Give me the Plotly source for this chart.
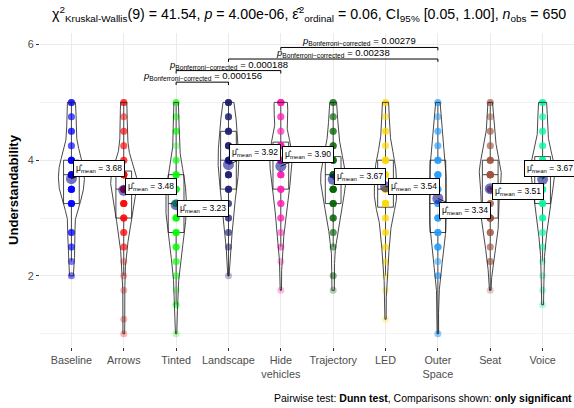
import numpy as np
import plotly.graph_objects as go

# ---- data -------------------------------------------------------------
groups = ["Baseline", "Arrows", "Tinted", "Landscape", "Hide vehicles",
          "Trajectory", "LED", "Outer Space", "Seat", "Voice"]
tick_labels = ["Baseline", "Arrows", "Tinted", "Landscape", "Hide<br>vehicles",
               "Trajectory", "LED", "Outer<br>Space", "Seat", "Voice"]

# rating levels of the understandability score
levels = [1.0, 1.25, 1.5, 1.75, 2.0, 2.25, 2.5, 2.75, 3.0,
          3.25, 3.5, 3.75, 4.0, 4.25, 4.5, 4.75, 5.0]

# number of participants at each level, per condition (n = 65 each)
counts_baseline   = [0, 0, 0, 0, 2, 2, 3, 4, 0, 8, 10, 11, 10, 3, 4, 3, 5]
counts_arrows     = [1, 1, 0, 1, 1, 1, 3, 4, 6, 8, 10, 13, 4, 3, 3, 2, 4]
counts_tinted     = [1, 0, 2, 1, 2, 3, 5, 7, 8, 9, 8, 7, 3, 1, 3, 2, 3]
counts_landscape  = [0, 0, 0, 0, 1, 0, 2, 3, 4, 4, 7, 8, 9, 8, 7, 5, 7]
counts_hide       = [0, 0, 0, 1, 0, 1, 2, 2, 4, 5, 7, 8, 9, 10, 3, 4, 9]
counts_trajectory = [0, 0, 0, 1, 2, 0, 2, 3, 5, 7, 10, 11, 8, 5, 4, 3, 4]
counts_led        = [0, 1, 0, 1, 1, 2, 3, 4, 4, 10, 9, 8, 9, 3, 4, 2, 4]
counts_outer      = [2, 0, 0, 0, 3, 2, 6, 7, 7, 6, 6, 8, 7, 3, 3, 2, 3]
counts_seat       = [0, 0, 0, 1, 0, 3, 3, 5, 11, 5, 4, 15, 7, 3, 3, 2, 3]
counts_voice      = [0, 0, 1, 1, 1, 1, 2, 3, 5, 7, 7, 11, 10, 4, 4, 3, 5]

all_counts = [counts_baseline, counts_arrows, counts_tinted, counts_landscape,
              counts_hide, counts_trajectory, counts_led, counts_outer,
              counts_seat, counts_voice]

colors = ["#0000FF", "#FF0000", "#00FF00", "#191970", "#FF1CB4",
          "#006400", "#FFD700", "#1E9BFF", "#A0523F", "#00FA9A"]

# significant Dunn comparisons (Bonferroni corrected)
pair_a = ["Tinted", "Tinted", "Landscape", "Hide vehicles"]
pair_b = ["Landscape", "Hide vehicles", "Outer Space", "Outer Space"]
p_adjusted = ["0.000156", "0.000188", "0.00238", "0.00279"]

# ---- styling ------------------------------------------------------------
FONT = "Liberation Sans, Arial, sans-serif"
label_offsets = [(28, -10), (27, -4), (27, 4), (27, -12), (27, -12),
                 (27, -3), (28, 0), (27, 12), (28, 3), (7, -11)]
bracket_base, bracket_step, tip = 5.35, 0.2, 0.05

samples = [np.repeat(levels, c) for c in all_counts]


def bw_nrd0(v):
    sd = np.std(v, ddof=1)
    iqr = np.quantile(v, 0.75) - np.quantile(v, 0.25)
    lo = min(sd, iqr / 1.34) if iqr > 0 else sd
    return 0.9 * lo * len(v) ** (-0.2)


densities = []
for v in samples:
    bw = bw_nrd0(v)
    grid = np.linspace(v.min(), v.max(), 512)
    d = np.exp(-0.5 * ((grid[:, None] - v[None, :]) / bw) ** 2).sum(axis=1)
    d /= len(v) * bw * np.sqrt(2 * np.pi)
    densities.append((grid, d))
dens_max = max(d.max() for _, d in densities)

fig = go.Figure()

# raw observations
for i, (v, col) in enumerate(zip(samples, colors)):
    fig.add_trace(go.Scatter(
        x=np.full(len(v), i + 1), y=v, mode="markers",
        marker=dict(size=7, color=col, opacity=0.3, line=dict(width=0)),
        hoverinfo="skip", showlegend=False))

# boxplots
for i, v in enumerate(samples):
    fig.add_trace(go.Box(
        x=np.full(len(v), i + 1), y=v, width=0.3, boxpoints="outliers",
        marker=dict(opacity=0, size=1), whiskerwidth=0,
        line=dict(color="#1a1a1a", width=0.8),
        fillcolor="rgba(255,255,255,0.15)", quartilemethod="linear",
        hoverinfo="skip", showlegend=False))

# violins (area-scaled, trimmed)
for i, (grid, d) in enumerate(densities):
    half = 0.25 * d / dens_max
    xs = np.concatenate([i + 1 - half, (i + 1 + half)[::-1], [i + 1 - half[0]]])
    ys = np.concatenate([grid, grid[::-1], [grid[0]]])
    fig.add_trace(go.Scatter(x=xs, y=ys, mode="lines",
                             line=dict(color="#1a1a1a", width=0.8),
                             hoverinfo="skip", showlegend=False))

# means with labels
means = [float(np.mean(v)) for v in samples]
fig.add_trace(go.Scatter(
    x=list(range(1, len(groups) + 1)), y=means, mode="markers",
    marker=dict(size=11, color="rgba(0,0,139,0.55)", line=dict(width=0)),
    hoverinfo="skip", showlegend=False))
for i, m in enumerate(means):
    ax, ay = label_offsets[i]
    fig.add_annotation(
        x=i + 1, y=m, ax=ax, ay=ay, axref="pixel", ayref="pixel",
        text=f"μ̂<sub>mean</sub> = {m:.2f}", showarrow=True, arrowhead=0,
        arrowwidth=0.8, arrowcolor="black", standoff=0,
        font=dict(family=FONT, size=8.5, color="black"),
        bgcolor="white", bordercolor="black", borderwidth=1, borderpad=2)

# significance brackets
for k, (a, b, p) in enumerate(zip(pair_a, pair_b, p_adjusted)):
    xa, xb = groups.index(a) + 1, groups.index(b) + 1
    yb = bracket_base + k * bracket_step
    fig.add_trace(go.Scatter(x=[xa, xa, xb, xb], y=[yb - tip, yb, yb, yb - tip],
                             mode="lines", line=dict(color="black", width=1),
                             hoverinfo="skip", showlegend=False))
    fig.add_annotation(
        x=(xa + xb) / 2, y=yb, yanchor="bottom", showarrow=False, yshift=-2,
        text=f"<i>p</i><sub>Bonferroni−corrected</sub> = {p}",
        font=dict(family=FONT, size=9.5, color="black"))

title = ("χ<sup>2</sup><sub>Kruskal-Wallis</sub>(9) = 41.54, <i>p</i> = 4.00e-06, "
         "ε̂<sup>2</sup><sub>ordinal</sub> = 0.06, CI<sub>95%</sub> [0.05, 1.00], "
         "<i>n</i><sub>obs</sub> = 650")
fig.add_annotation(x=0, xref="paper", xanchor="left", xshift=10,
                   y=1.06, yref="paper", yanchor="middle", showarrow=False,
                   text=title, font=dict(family=FONT, size=14.2, color="black"))

fig.add_annotation(x=1, xref="paper", xanchor="right", y=-0.162, yref="paper",
                   yanchor="middle", showarrow=False,
                   text="Pairwise test: <b>Dunn test</b>, Comparisons shown: <b>only significant</b>",
                   font=dict(family=FONT, size=10.5, color="black"))

fig.update_layout(
    width=574, height=408, margin=dict(l=40, r=0, t=33, b=61),
    plot_bgcolor="white", paper_bgcolor="white", boxmode="overlay",
    font=dict(family=FONT),
    xaxis=dict(range=[0.4, 10.6], tickmode="array",
               tickvals=list(range(1, len(groups) + 1)), ticktext=tick_labels,
               showgrid=True, gridcolor="#EBEBEB", gridwidth=1, zeroline=False,
               ticks="outside", ticklen=3, tickcolor="#333333",
               tickfont=dict(family=FONT, size=10.8, color="#4D4D4D")),
    yaxis=dict(range=[0.77, 6.2], tickmode="array", tickvals=[2, 4, 6],
               showgrid=True, gridcolor="#EBEBEB", gridwidth=1, zeroline=False,
               minor=dict(tickvals=[1, 3, 5], showgrid=True,
                          gridcolor="#F3F3F3", gridwidth=0.7),
               ticks="outside", ticklen=3, tickcolor="#333333",
               tickfont=dict(family=FONT, size=10.8, color="#4D4D4D"),
               title=dict(text="<b>Understandability</b>", standoff=6,
                          font=dict(family=FONT, size=13, color="black"))),
)

fig.write_html("out.html")
